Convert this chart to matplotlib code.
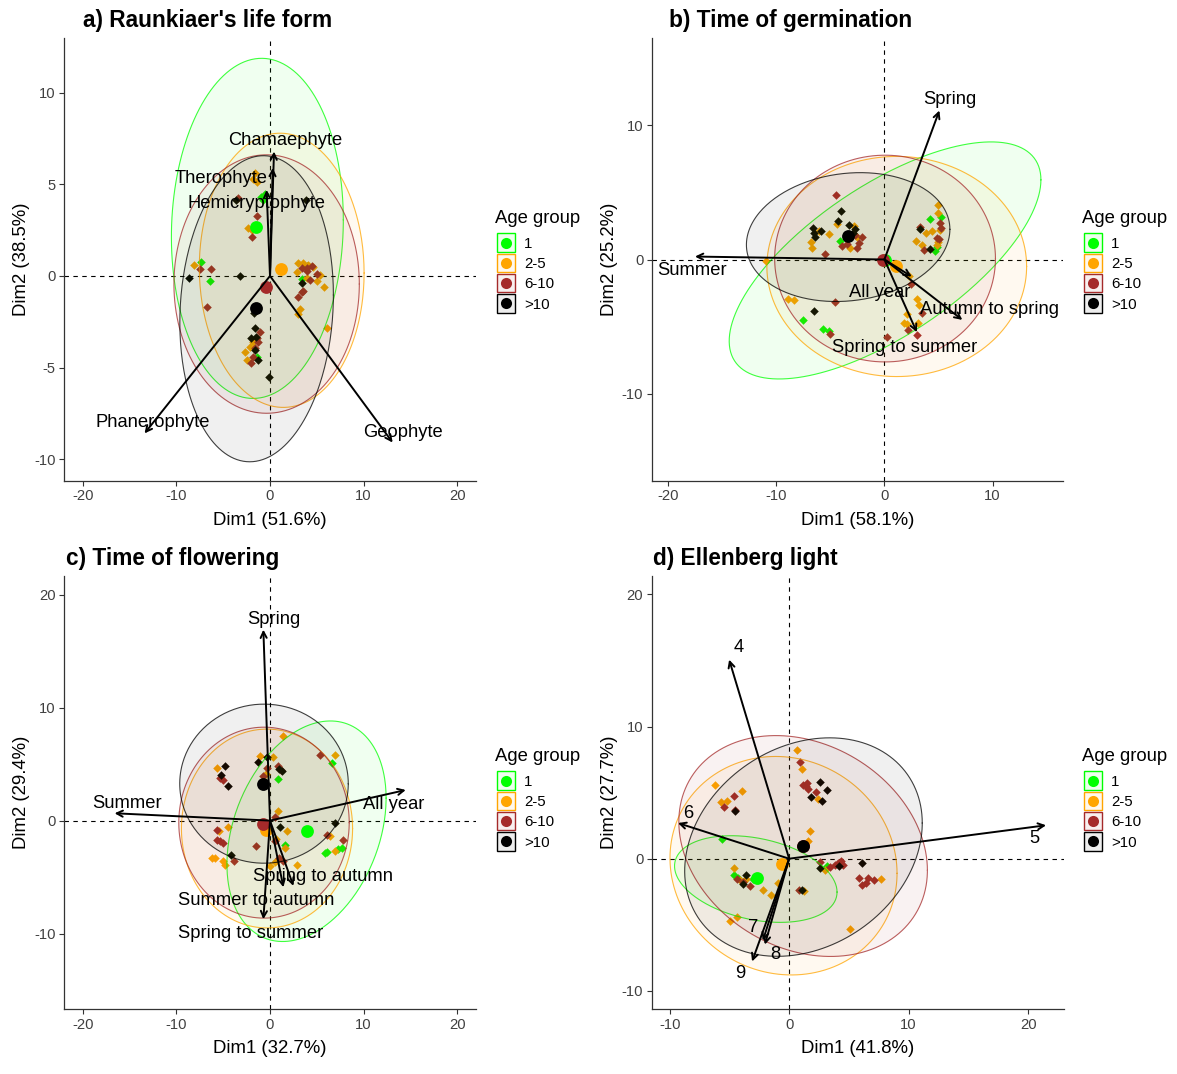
import numpy as np
import matplotlib
matplotlib.use('Agg')
import matplotlib.pyplot as plt
from matplotlib.patches import Rectangle
from matplotlib.lines import Line2D
from matplotlib.colors import to_rgba

plt.rcParams['font.family'] = ['Liberation Sans', 'DejaVu Sans']
plt.rcParams['axes.unicode_minus'] = False

groups = ['1', '2-5', '6-10', '>10']
group_colors = ['#00FF00', '#FFA500', '#A52A2A', '#000000']
legend_title = 'Age group'

# ---------------- Panel a: Raunkiaer's life form ----------------
a_title = "a) Raunkiaer's life form"
a_xlabel = "Dim1 (51.6%)"
a_ylabel = "Dim2 (38.5%)"
a_pts_1 = [(-0.5, 4.5), (-0.7, 4.15), (-1.0, 4.3), (-7.4, 0.75), (-6.4, -0.3), (3.4, -0.18), (3.9, 0.55), (-1.43, -4.44)]
a_pts_2 = [(-1.6, 5.6), (-1.4, 5.15), (-1.8, 5.3), (-2.3, 2.6), (-1.96, 2.5), (-8.1, 0.6), (2.96, 0.69), (3.57, 0.69),
           (4.1, 0.6), (4.6, 0.5), (2.85, 0.24), (5.35, 0.05), (3.9, -0.13), (5.0, -0.27), (5.8, -0.58), (3.2, -1.8),
           (2.96, -2.1), (6.1, -2.86), (-1.8, -3.6), (-2.1, -3.86), (-2.67, -4.13), (-2.5, -4.57)]
a_pts_3 = [(-3.4, 4.25), (-1.4, 3.3), (-1.96, 2.15), (-7.5, 0.36), (-6.35, 0.4), (-6.7, -1.68), (3.4, 0.42), (3.9, 0.29),
           (4.45, 0.56), (4.0, 0.45), (5.0, 0.1), (4.3, -0.22), (3.4, -0.86), (3.57, -0.8), (3.0, -1.13), (-1.07, -3.04),
           (-1.43, -3.4), (-1.25, -3.59), (-1.6, -3.95), (-1.8, -4.4), (-2.07, -4.77)]
a_pts_4 = [(-3.6, 4.15), (3.85, 4.15), (-8.7, -0.1), (-3.2, 0.0), (3.4, -0.4), (-1.7, -2.04), (-1.6, -2.86),
           (-2.07, -3.37), (-1.5, -3.35), (-1.57, -4.04), (-1.25, -4.6), (-0.07, -5.5)]
a_centroids = [(-1.5, 2.66), (1.18, 0.36), (-0.46, -0.62), (-1.5, -1.77)]
a_ell_center = [(-1.35, 2.6), (1.25, 0.31), (-0.36, -0.44), (-1.43, -1.79)]
a_ell_xext = [9.18, 8.8, 9.9, 8.2]
a_ell_yext = [9.29, 7.49, 7.06, 8.36]
a_ell_rho = [0.05, -0.02, 0.0, 0.09]
a_vars = ['Chamaephyte', 'Therophyte', 'Hemicryptophyte', 'Phanerophyte', 'Geophyte']
a_var_x = [0.43, 0.29, -0.36, -13.4, 13.1]
a_var_y = [6.8, 5.9, 4.7, -8.6, -9.1]
a_lab_x = [1.6, -5.2, -1.4, -12.5, 14.2]
a_lab_y = [7.4, 5.3, 3.97, -8.0, -8.56]
a_xticks = [-20, -10, 0, 10, 20]
a_yticks = [-10, -5, 0, 5, 10]

# ---------------- Panel b: Time of germination ----------------
b_title = "b) Time of germination"
b_xlabel = "Dim1 (58.1%)"
b_ylabel = "Dim2 (25.2%)"
b_pts_1 = [(-4.1, 1.39), (5.2, 3.2), (4.2, 3.03), (4.68, 0.65), (4.9, 0.95), (-7.54, -4.5), (-5.63, -5.2), (-5.1, -5.32)]
b_pts_2 = [(-4.4, 2.66), (-5.08, 1.89), (-6.8, 1.27), (-6.7, 0.85), (-2.8, 2.5), (-3.17, 0.85), (-6.0, 2.1),
           (-2.5, 1.7), (-10.95, -0.1), (4.98, 4.08), (4.98, 3.46), (3.85, 1.97), (4.37, 2.09), (5.14, 2.2),
           (4.98, 1.3), (2.92, 1.39), (3.45, 1.09), (4.83, 1.05), (2.3, -1.22), (3.0, -2.96), (3.23, -3.38),
           (2.06, -4.08), (1.8, -4.75), (2.06, -4.8), (3.14, -4.7), (-8.95, -2.96), (-8.34, -3.0)]
b_pts_3 = [(-4.46, 4.78), (-3.9, 0.97), (-3.5, 1.15), (-2.7, 1.8), (-2.55, 0.85), (-2.1, 1.64), (-2.35, 1.2),
           (-5.5, 0.4), (3.3, 2.4), (5.14, 2.7), (5.2, 2.35), (4.83, 1.6), (5.05, 1.5), (3.7, 0.72), (2.5, -1.8),
           (3.45, -4.0), (2.2, -5.25), (3.0, -5.6), (0.2, -5.75), (-4.55, -3.18), (-5.0, -5.57)]
b_pts_4 = [(-4.0, 3.63), (-4.25, 2.84), (-6.6, 2.31), (-5.85, 2.14), (-6.4, 1.67), (-6.55, 1.95), (-3.23, 2.59),
           (-2.7, 2.3), (-2.9, 2.0), (3.3, 2.3), (4.2, 0.77), (-6.5, -3.83)]
b_centroids = [(0.05, -0.05), (1.08, -0.45), (-0.09, -0.02), (-3.38, 1.72)]
b_ell_center = [(0.06, -0.07), (1.14, -0.52), (0.06, 0.07), (-3.35, 1.67)]
b_ell_xext = [14.4, 12.0, 10.2, 9.4]
b_ell_yext = [8.83, 8.2, 7.7, 4.8]
b_ell_rho = [0.68, 0.0, 0.0, 0.12]
b_vars = ['Spring', 'Summer', 'All year', 'Autumn to spring', 'Spring to summer']
b_var_x = [5.08, -17.5, 2.52, 7.2, 3.0]
b_var_y = [11.1, 0.22, -1.27, -4.5, -5.42]
b_lab_x = [6.0, -17.8, -0.4, 9.75, 1.9]
b_lab_y = [11.9, -0.82, -2.46, -3.76, -6.57]
b_xticks = [-20, -10, 0, 10]
b_yticks = [-10, 0, 10]

# ---------------- Panel c: Time of flowering ----------------
c_title = "c) Time of flowering"
c_xlabel = "Dim1 (32.7%)"
c_ylabel = "Dim2 (29.4%)"
c_pts_1 = [(6.6, 5.1), (0.9, 3.69), (7.66, -2.42), (7.3, -2.55), (5.88, -2.86), (6.1, -2.8), (1.6, -2.12)]
c_pts_2 = [(1.43, 7.52), (6.95, 5.84), (0.36, 5.6), (-1.07, 5.7), (-5.7, 4.66), (-0.4, 4.1), (0.82, 0.82),
           (1.78, -0.88), (6.4, -1.39), (6.95, -2.7), (-4.46, -0.59), (-5.4, -0.9), (-6.2, -3.3), (-5.9, -3.3),
           (-5.0, -3.6), (-4.8, -3.95), (0.0, -4.04), (0.5, -3.7), (2.85, -3.9), (1.6, -2.42), (0.6, -1.6)]
c_pts_3 = [(5.35, 5.78), (-0.36, 4.66), (0.9, 4.8), (1.2, 4.5), (-0.71, 3.92), (-5.35, 3.78), (-5.0, 3.63),
           (-5.7, -0.8), (-5.35, -1.83), (-5.0, -1.97), (-5.7, -1.68), (-3.8, -3.54), (-1.5, -2.27), (0.53, -1.83),
           (1.43, -3.6), (0.53, 0.29), (7.84, -1.68), (6.06, -1.24), (1.0, -3.3)]
c_pts_4 = [(-0.36, 5.6), (-1.25, 5.19), (1.25, 4.36), (1.0, 4.6), (-4.8, 4.8), (-5.2, 4.07), (-4.46, 3.04),
           (1.07, -0.59), (6.95, -0.2), (-4.2, -3.07)]
c_centroids = [(3.92, -0.95), (-0.43, -0.8), (-0.71, -0.29), (-0.71, 3.24)]
c_ell_center = [(3.9, -0.94), (-0.32, -0.7), (-0.64, -0.18), (-0.64, 3.27)]
c_ell_xext = [8.5, 9.14, 9.1, 9.0]
c_ell_yext = [9.76, 8.8, 8.45, 7.04]
c_ell_rho = [0.3, 0.0, 0.0, 0.0]
c_vars = ['Spring', 'Summer', 'All year', 'Spring to autumn', 'Summer to autumn', 'Spring to summer']
c_var_x = [-0.71, -16.6, 14.5, 2.5, 1.43, -0.71]
c_var_y = [16.9, 0.65, 2.71, -5.78, -5.9, -8.73]
c_lab_x = [0.36, -15.3, 13.2, 5.7, -1.5, -2.1]
c_lab_y = [17.8, 1.53, 1.47, -4.96, -7.08, -9.97]
c_xticks = [-20, -10, 0, 10, 20]
c_yticks = [-10, 0, 10, 20]

# ---------------- Panel d: Ellenberg light ----------------
d_title = "d) Ellenberg light"
d_xlabel = "Dim1 (41.8%)"
d_ylabel = "Dim2 (27.7%)"
d_pts_1 = [(-5.6, 1.5), (-4.63, -1.26), (-4.3, -1.45), (3.13, -0.53), (-3.0, -1.55)]
d_pts_2 = [(0.62, 8.26), (1.04, 6.8), (2.43, 4.5), (-6.2, 5.6), (-3.96, 5.1), (-5.7, 4.27), (-5.2, 4.34),
           (1.73, 2.07), (1.6, 1.31), (-4.63, -0.7), (-4.07, -1.64), (-2.18, -2.4), (-1.48, -2.73), (-0.92, -1.84),
           (1.26, -2.47), (2.99, -0.83), (7.68, -1.54), (5.09, -5.33), (-4.97, -4.75), (-4.35, -4.44), (-3.6, -1.5)]
d_pts_3 = [(0.95, 7.3), (1.4, 5.5), (1.2, 5.6), (1.6, 5.3), (1.5, 5.75), (2.24, 5.05), (-4.63, 4.77), (-5.44, 3.89),
           (-4.55, 3.7), (-4.4, -1.5), (-3.3, -2.1), (0.81, -2.35), (2.57, -0.28), (3.4, -0.6), (3.8, -0.5),
           (4.1, -0.3), (4.5, -0.45), (4.3, -0.2), (5.86, -1.46), (6.06, -1.97), (6.6, -1.46), (7.1, -1.64),
           (6.4, -1.85), (-3.9, -1.75)]
d_pts_4 = [(2.57, 5.78), (3.2, 5.18), (1.87, 4.65), (2.71, 4.34), (-4.55, 3.59), (-3.57, -1.21), (-3.9, -1.92),
           (1.1, -2.35), (2.57, -0.71), (4.2, -0.58), (6.06, -0.33)]
d_centroids = [(-2.73, -1.46), (-0.56, -0.4), (1.15, 0.95), (1.2, 0.93)]
d_ell_center = [(-2.79, -1.54), (-0.47, -0.53), (1.17, 0.96), (1.2, 0.88)]
d_ell_xext = [6.8, 9.5, 10.4, 9.94]
d_ell_yext = [3.28, 8.27, 8.36, 8.27]
d_ell_rho = [-0.3, -0.07, -0.22, 0.22]
d_vars = ['4', '5', '6', '7', '8', '9']
d_var_x = [-5.02, 21.5, -9.3, -2.2, -2.03, -3.1]
d_var_y = [15.07, 2.53, 2.7, -6.2, -6.5, -7.78]
d_lab_x = [-4.24, 20.5, -8.46, -3.0, -1.14, -4.07]
d_lab_y = [16.0, 1.52, 3.41, -5.2, -7.27, -8.66]
d_xticks = [-10, 0, 10, 20]
d_yticks = [-10, 0, 10, 20]

# ---------------- layout (pixels) ----------------
W, H = 1177, 1074
fig = plt.figure(figsize=(W / 100, H / 100), dpi=100)


def px_rect(l, t, r, b):
    return [l / W, 1 - b / H, (r - l) / W, (b - t) / H]


def fx(x):
    return x / W


def fy(y):
    return 1 - y / H


panels = [
    dict(rect=px_rect(64, 38, 476, 481), xlim=(-22, 22), ylim=(-11.2, 13.0), title=a_title, tpos=(83, 20),
         xl=a_xlabel, yl=a_ylabel, pts=[a_pts_1, a_pts_2, a_pts_3, a_pts_4], cen=a_centroids,
         ec=a_ell_center, ex=a_ell_xext, ey=a_ell_yext, er=a_ell_rho,
         vars=a_vars, vx=a_var_x, vy=a_var_y, lx=a_lab_x, ly=a_lab_y, xt=a_xticks, yt=a_yticks, leg=(495, 0)),
    dict(rect=px_rect(651.7, 38, 1063, 481), xlim=(-21.5, 16.5), ylim=(-16.5, 16.5), title=b_title, tpos=(669, 20),
         xl=b_xlabel, yl=b_ylabel, pts=[b_pts_1, b_pts_2, b_pts_3, b_pts_4], cen=b_centroids,
         ec=b_ell_center, ex=b_ell_xext, ey=b_ell_yext, er=b_ell_rho,
         vars=b_vars, vx=b_var_x, vy=b_var_y, lx=b_lab_x, ly=b_lab_y, xt=b_xticks, yt=b_yticks, leg=(1082, 0)),
    dict(rect=px_rect(64, 576, 476, 1009.3), xlim=(-22, 22), ylim=(-16.7, 21.65), title=c_title, tpos=(66, 558),
         xl=c_xlabel, yl=c_ylabel, pts=[c_pts_1, c_pts_2, c_pts_3, c_pts_4], cen=c_centroids,
         ec=c_ell_center, ex=c_ell_xext, ey=c_ell_yext, er=c_ell_rho,
         vars=c_vars, vx=c_var_x, vy=c_var_y, lx=c_lab_x, ly=c_lab_y, xt=c_xticks, yt=c_yticks, leg=(495, 538)),
    dict(rect=px_rect(651.7, 576, 1064, 1009.3), xlim=(-11.5, 23.0), ylim=(-11.4, 21.4), title=d_title, tpos=(653, 558),
         xl=d_xlabel, yl=d_ylabel, pts=[d_pts_1, d_pts_2, d_pts_3, d_pts_4], cen=d_centroids,
         ec=d_ell_center, ex=d_ell_xext, ey=d_ell_yext, er=d_ell_rho,
         vars=d_vars, vx=d_var_x, vy=d_var_y, lx=d_lab_x, ly=d_lab_y, xt=d_xticks, yt=d_yticks, leg=(1082, 538)),
]

t = np.linspace(0, 2 * np.pi, 300)

for p in panels:
    ax = fig.add_axes(p['rect'])
    ax.set_xlim(*p['xlim'])
    ax.set_ylim(*p['ylim'])
    for s in ['top', 'right']:
        ax.spines[s].set_visible(False)
    for s in ['left', 'bottom']:
        ax.spines[s].set_color('#333333')
        ax.spines[s].set_linewidth(0.9)
    ax.set_xticks(p['xt'])
    ax.set_yticks(p['yt'])
    ax.tick_params(direction='out', length=3.5, width=0.8, color='#333333', labelsize=10.6,
                   labelcolor='#404040', pad=2.5)
    ax.set_xlabel(p['xl'], fontsize=13.4, labelpad=6)
    ax.set_ylabel(p['yl'], fontsize=13.4, labelpad=3)

    ax.axhline(0, color='black', lw=0.8, ls=(0, (4, 4)), zorder=1)
    ax.axvline(0, color='black', lw=0.8, ls=(0, (4, 4)), zorder=1)

    # individual points
    for pts, col in zip(p['pts'], group_colors):
        arr = np.array(pts)
        ax.scatter(arr[:, 0], arr[:, 1], marker='D', s=19, color=col, linewidths=0, zorder=2)

    # ellipses
    for (cx, cy), xe, ye, rho, col in zip(p['ec'], p['ex'], p['ey'], p['er'], group_colors):
        ex = cx + xe * np.cos(t)
        ey = cy + ye * (rho * np.cos(t) + np.sqrt(1 - rho ** 2) * np.sin(t))
        ax.fill(ex, ey, facecolor=to_rgba(col, 0.06), edgecolor='none', zorder=3)
        ax.plot(ex, ey, color=col, lw=0.8, alpha=0.75, zorder=3)

    # group centroids
    for (cx, cy), col in zip(p['cen'], group_colors):
        ax.scatter([cx], [cy], marker='o', s=85, color=col, linewidths=0, zorder=4)

    # variable arrows
    for name, vx, vy, lx, ly in zip(p['vars'], p['vx'], p['vy'], p['lx'], p['ly']):
        ax.annotate('', xy=(vx, vy), xytext=(0, 0),
                    arrowprops=dict(arrowstyle='->', lw=1.4, color='black', mutation_scale=11,
                                    shrinkA=0, shrinkB=0), zorder=5)
        ax.text(lx, ly, name, fontsize=13.2, ha='center', va='center', color='black', zorder=6)

    fig.text(fx(p['tpos'][0]), fy(p['tpos'][1]), p['title'], fontsize=16.3, fontweight='bold',
             ha='left', va='center')

    # legend (drawn manually, figure pixel coordinates)
    lx0, dy = p['leg']
    fig.text(fx(lx0), fy(223 + dy), legend_title, fontsize=13.3, ha='left', va='baseline')
    for i, (g, col) in enumerate(zip(groups, group_colors)):
        yc = 242.5 + dy + i * 20.3
        fig.add_artist(Rectangle((fx(lx0 + 1.5), fy(yc + 9.2)), 18.5 / W, 18.4 / H, transform=fig.transFigure,
                                 facecolor=to_rgba(col, 0.07), edgecolor=col, linewidth=1.0))
        fig.add_artist(Line2D([fx(lx0 + 10.8)], [fy(yc)], marker='o', ls='', color=col, markersize=8,
                              markeredgewidth=0, transform=fig.transFigure))
        fig.text(fx(lx0 + 29), fy(yc + 5.2), g, fontsize=10.8, ha='left', va='baseline')

fig.savefig('out.png', dpi=100)
